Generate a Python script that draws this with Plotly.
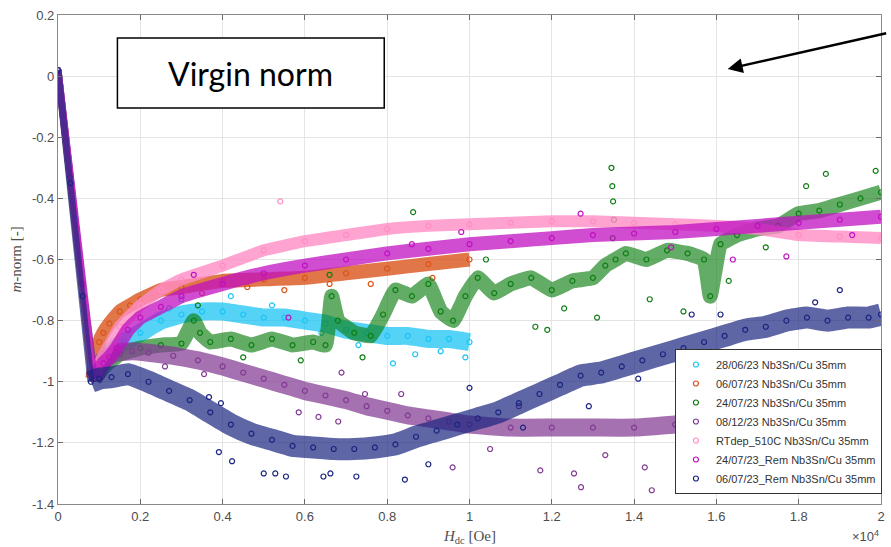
import plotly.graph_objects as go

# ---------------- data ----------------
x_tick_vals = [0, 2000, 4000, 6000, 8000, 10000, 12000, 14000, 16000, 18000, 20000]
x_tick_text = ["0", "0.2", "0.4", "0.6", "0.8", "1", "1.2", "1.4", "1.6", "1.8", "2"]
y_tick_vals = [0.2, 0, -0.2, -0.4, -0.6, -0.8, -1.0, -1.2, -1.4]
y_tick_text = ["0.2", "0", "-0.2", "-0.4", "-0.6", "-0.8", "-1", "-1.2", "-1.4"]

series_names = [
    "28/06/23 Nb3Sn/Cu 35mm",
    "06/07/23 Nb3Sn/Cu 35mm",
    "24/07/23 Nb3Sn/Cu 35mm",
    "08/12/23 Nb3Sn/Cu 35mm",
    "RTdep_510C Nb3Sn/Cu 35mm",
    "24/07/23_Rem Nb3Sn/Cu 35mm",
    "06/07/23_Rem Nb3Sn/Cu 35mm",
]

cyan_x = [0, 300, 600, 850, 950, 1100, 1300, 1600, 2000, 2500, 3000, 3500, 4000, 4500, 5000,
          5500, 6000, 6500, 7000, 7500, 8000, 8500, 9000, 9500, 10000]
cyan_y = [0.02, -0.34, -0.70, -0.98, -0.97, -0.93, -0.90, -0.87, -0.84, -0.80, -0.78, -0.77,
          -0.77, -0.78, -0.79, -0.79, -0.80, -0.81, -0.83, -0.84, -0.85, -0.85, -0.86, -0.86, -0.87]
cyan_out_x = [8140, 8680, 3000, 4200, 9900, 2700, 5200, 6400, 7300, 9300]
cyan_out_y = [-0.94, -0.91, -0.73, -0.72, -0.92, -0.76, -0.75, -0.84, -0.88, -0.90]

orange_x = [0, 300, 600, 830, 920, 1000, 1100, 1250, 1500, 1750, 2000, 2500, 3000, 4000, 5000,
            6000, 7000, 8000, 9000, 10000]
orange_y = [0.02, -0.35, -0.72, -0.99, -0.93, -0.87, -0.84, -0.81, -0.77, -0.75, -0.73, -0.70,
            -0.69, -0.67, -0.665, -0.66, -0.645, -0.63, -0.615, -0.60]
orange_out_x = [5500, 7600, 9100, 3500, 4600, 6600]
orange_out_y = [-0.70, -0.68, -0.66, -0.71, -0.69, -0.68]

green_x = [0, 300, 600, 900, 1000, 1200, 1500, 2000, 2500, 3000, 3300, 3450, 3700, 4200, 4700,
           5200, 5700, 6200, 6500, 6650, 6800, 7200, 7600, 7900, 8200, 8600, 9000, 9300, 9600,
           9900, 10200, 10600, 11000, 11500, 12000, 12500, 13000, 13300, 13550, 13800,
           14300, 14800, 15300, 15700, 15850, 16100, 16500, 17000, 17500, 18000, 18500, 19000,
           19500, 20000]
green_y = [0.02, -0.34, -0.70, -0.99, -0.97, -0.94, -0.91, -0.89, -0.88, -0.875, -0.80, -0.84,
           -0.87, -0.86, -0.88, -0.86, -0.88, -0.87, -0.88, -0.72, -0.80, -0.84, -0.85, -0.78,
           -0.70, -0.72, -0.68, -0.77, -0.80, -0.72, -0.66, -0.71, -0.68, -0.66, -0.70, -0.67,
           -0.66, -0.62, -0.60, -0.58, -0.60, -0.57, -0.58, -0.60, -0.72, -0.55, -0.52,
           -0.50, -0.49, -0.45, -0.44, -0.42, -0.40, -0.38]
green_out_x = [8630, 11600, 11890, 13100, 15200, 16300, 18660, 19870, 18180, 14380, 13450, 13470,
               13490, 13510, 13480, 6600, 3400, 4500, 5900, 7400, 10400, 12300, 17200]
green_out_y = [-0.445, -0.82, -0.83, -0.79, -0.77, -0.67, -0.32, -0.31, -0.36, -0.73, -0.30, -0.36,
               -0.41, -0.47, -0.53, -0.65, -0.75, -0.92, -0.93, -0.92, -0.60, -0.76, -0.56]

purple_x = [0, 300, 600, 850, 950, 1100, 1400, 1800, 2200, 2800, 3400, 4000, 4500, 5000, 5500,
            6000, 6500, 7000, 7500, 8000, 8500, 9000, 9500, 10000, 11000, 12000, 13000, 14000,
            15000, 16000, 17000, 18000, 19000, 20000]
purple_y = [0.02, -0.34, -0.70, -0.99, -0.97, -0.93, -0.905, -0.90, -0.905, -0.915, -0.93, -0.95,
            -0.97, -0.99, -1.01, -1.03, -1.045, -1.06, -1.08, -1.095, -1.11, -1.12, -1.13, -1.14,
            -1.15, -1.15, -1.15, -1.15, -1.14, -1.12, -1.10, -1.07, -1.03, -1.0]
purple_out_x = [3550, 5850, 6330, 6890, 7460, 8340, 6810, 9590, 11720, 12710, 14430, 12540, 14260,
                19800, 19750, 2600, 10500, 13300, 15800, 17900, 11200]
purple_out_y = [-0.975, -1.10, -1.115, -0.97, -1.04, -1.04, -1.13, -1.28, -1.29, -1.345, -1.355,
                -1.30, -1.28, -1.16, -1.09, -0.95, -1.22, -1.24, -1.21, -1.17, -1.08]

pink_x = [0, 300, 600, 850, 1000, 1250, 1500, 2000, 2500, 3000, 4000, 5000, 6000, 7000, 8000,
          9000, 10000, 11000, 12000, 13000, 14000, 15000, 16000, 17000, 18000, 19000, 20000]
pink_y = [0.02, -0.34, -0.70, -0.99, -0.94, -0.88, -0.82, -0.75, -0.70, -0.665, -0.62, -0.57,
          -0.54, -0.52, -0.50, -0.49, -0.485, -0.48, -0.475, -0.475, -0.48, -0.485, -0.49, -0.50,
          -0.52, -0.525, -0.53]
pink_out_x = [5400]
pink_out_y = [-0.41]

magenta_x = [0, 300, 600, 880, 950, 1100, 1250, 1420, 1700, 2000, 2500, 3000, 4000, 5000, 6000,
             7000, 8000, 9000, 10000, 11000, 12000, 13000, 14000, 15000, 16000, 17000, 18000,
             19000, 20000]
magenta_y = [0.02, -0.33, -0.68, -0.99, -0.97, -0.94, -0.92, -0.89, -0.83, -0.79, -0.755, -0.72,
             -0.68, -0.645, -0.62, -0.60, -0.58, -0.565, -0.55, -0.54, -0.53, -0.52, -0.515,
             -0.51, -0.50, -0.49, -0.48, -0.47, -0.46]
magenta_out_x = [5600, 8600, 16400, 17700, 9800, 12700, 3300, 14900, 19300]
magenta_out_y = [-0.79, -0.55, -0.60, -0.59, -0.51, -0.45, -0.65, -0.56, -0.52]

navy_x = [0, 300, 600, 800, 1000, 1300, 1700, 2200, 2700, 3200, 3700, 4200, 4700, 5200, 5700,
          6200, 6700, 7200, 7700, 8200, 8700, 9200, 9700, 10200, 10700, 11200, 11700, 12200,
          12700, 13200, 13700, 14200, 14700, 15200, 15700, 16200, 16700, 17200, 17700, 18200,
          18700, 19200, 19700, 20000]
navy_y = [0.02, -0.35, -0.72, -1.00, -0.99, -0.985, -0.975, -1.0, -1.03, -1.06, -1.10, -1.14,
          -1.17, -1.19, -1.21, -1.215, -1.22, -1.22, -1.215, -1.205, -1.18, -1.16, -1.14, -1.12,
          -1.10, -1.07, -1.04, -1.01, -0.98, -0.97, -0.95, -0.93, -0.91, -0.89, -0.87, -0.85,
          -0.83, -0.82, -0.80, -0.79, -0.80, -0.79, -0.79, -0.78]
navy_out_x = [3910, 4230, 5000, 5280, 5540, 6450, 6620, 7250, 8430, 3670, 3960, 10000, 17500,
              15400, 19000, 11300, 12900, 14100, 16100, 18400, 9000]
navy_out_y = [-1.23, -1.26, -1.30, -1.30, -1.31, -1.31, -1.30, -1.31, -1.32, -1.05, -1.07, -1.02,
              -0.94, -0.78, -0.70, -1.15, -1.08, -0.99, -0.78, -0.74, -1.27]

# ---------------- styling ----------------
series_x = [cyan_x, orange_x, green_x, purple_x, pink_x, magenta_x, navy_x]
series_y = [cyan_y, orange_y, green_y, purple_y, pink_y, magenta_y, navy_y]
out_x = [cyan_out_x, orange_out_x, green_out_x, purple_out_x, pink_out_x, magenta_out_x, navy_out_x]
out_y = [cyan_out_y, orange_out_y, green_out_y, purple_out_y, pink_out_y, magenta_out_y, navy_out_y]
colors = ["#1CC4F4", "#D9541A", "#0E7F14", "#823A93", "#FF8DC5", "#C010C0", "#1B257F"]
band_rgba = ["rgba(28,196,244,0.75)", "rgba(217,84,26,0.8)", "rgba(14,127,20,0.65)",
             "rgba(130,58,147,0.72)", "rgba(255,141,197,0.8)", "rgba(192,16,192,0.75)",
             "rgba(27,37,127,0.7)"]
band_width = [18, 14, 15, 18, 12, 14, 22]

fig = go.Figure()
for i in range(len(series_names)):
    xs, ys = series_x[i], series_y[i]
    k = ys.index(min(ys[:8]))  # index of the virgin-curve minimum
    # thin virgin descent
    fig.add_trace(go.Scatter(
        x=xs[:k + 1], y=ys[:k + 1], mode="lines",
        line=dict(color=band_rgba[i], width=7),
        legendgroup=str(i), showlegend=False, hoverinfo="skip"))
    # dense band after the minimum
    fig.add_trace(go.Scatter(
        x=xs[k:], y=ys[k:], mode="lines",
        line=dict(color=band_rgba[i], width=band_width[i], shape="spline", smoothing=0.3),
        legendgroup=str(i), showlegend=False, hoverinfo="skip"))
    fig.add_trace(go.Scatter(
        x=xs + out_x[i], y=ys + out_y[i], mode="markers",
        name=series_names[i], legendgroup=str(i),
        marker=dict(symbol="circle-open", size=5, color=colors[i], line=dict(width=1.2))))

axis_common = dict(
    showline=True, linecolor="#8a8a8a", linewidth=1.2, mirror="ticks",
    ticks="inside", ticklen=5, tickcolor="#6a6a6a",
    showgrid=True, gridcolor="#e4e4e4", gridwidth=1, zeroline=False,
    tickfont=dict(family="Liberation Sans, Arial", size=13, color="#4d4d4d"),
)
fig.update_xaxes(range=[0, 20000], tickvals=x_tick_vals, ticktext=x_tick_text, **axis_common)
fig.update_yaxes(range=[-1.4, 0.2], tickvals=y_tick_vals, ticktext=y_tick_text,
                 title=dict(text="<i>m</i>-norm [-]", standoff=6,
                            font=dict(family="Liberation Serif, Times New Roman", size=15,
                                      color="#4d4d4d")),
                 **axis_common)

fig.update_layout(
    width=891, height=547,
    margin=dict(l=58, r=6, t=15, b=43),
    paper_bgcolor="white", plot_bgcolor="white",
    legend=dict(x=0.7496, y=0.0205, xanchor="left", yanchor="bottom",
                bgcolor="white", bordercolor="#333333", borderwidth=1,
                font=dict(family="Liberation Sans, Arial", size=11, color="#333333"),
                itemsizing="trace", tracegroupgap=0, itemwidth=30),
    shapes=[dict(type="rect", xref="paper", yref="paper", x0=0.0722, x1=0.3964,
                 y0=0.810, y1=0.953, line=dict(color="black", width=1.5),
                 fillcolor="white", layer="above")],
    annotations=[
        dict(text="Virgin norm", xref="paper", yref="paper", x=0.2343, y=0.881,
             xanchor="center", yanchor="middle",
             showarrow=False, font=dict(family="Lato, Open Sans", size=32, color="black")),
        dict(text="", xref="paper", yref="paper", x=0.8137, y=0.8896, ax=160, ay=-36,
             showarrow=True, arrowhead=2, arrowsize=1.2, arrowwidth=2.5, arrowcolor="black"),
        dict(text="<i>H</i><sub>dc</sub> [Oe]", xref="paper", yref="paper", x=0.5,
             y=-0.045, xanchor="center", yanchor="top", showarrow=False,
             font=dict(family="Liberation Serif, Times New Roman", size=15, color="#4d4d4d")),
        dict(text="×10<sup>4</sup>", xref="paper", yref="paper", x=1.0, y=-0.045,
             xanchor="right", yanchor="top", showarrow=False,
             font=dict(family="Liberation Sans, Arial", size=13, color="#4d4d4d")),
    ],
)

fig.write_html("out.html")
